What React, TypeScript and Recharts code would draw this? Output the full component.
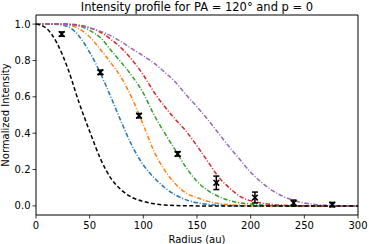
import React from "react";
import {
  ComposedChart,
  Line,
  Scatter,
  ErrorBar,
  XAxis,
  YAxis,
  ReferenceArea,
} from "recharts";

// radius grid (au) the model curves are read on
const radius = [
  0, 10, 20, 30, 40, 50, 60, 70, 80, 90, 100, 110, 120, 130, 140, 150, 160,
  170, 180, 190, 200, 210, 220, 230, 240, 250, 260, 270, 280, 290, 300,
];

// model curves
const psf = [
  1.0, 0.975, 0.89, 0.75, 0.57, 0.41, 0.26, 0.15, 0.085, 0.045, 0.025, 0.012,
  0.005, 0.002, 0.001, 0, 0, 0, 0, 0, 0, 0, 0, 0, 0, 0, 0, 0, 0, 0, 0,
];
const blue = [
  1.0, 1.0, 0.998, 0.985, 0.935, 0.845, 0.73, 0.595, 0.455, 0.325, 0.225,
  0.155, 0.1, 0.06, 0.033, 0.017, 0.008, 0.004, 0.002, 0.001, 0, 0, 0, 0, 0, 0,
  0, 0, 0, 0, 0,
];
const orange = [
  1.0, 1.0, 1.0, 0.995, 0.975, 0.93, 0.86, 0.785, 0.7, 0.585, 0.445, 0.3,
  0.195, 0.12, 0.07, 0.045, 0.025, 0.013, 0.007, 0.003, 0.001, 0, 0, 0, 0, 0,
  0, 0, 0, 0, 0,
];
const green = [
  1.0, 1.0, 1.0, 0.998, 0.99, 0.965, 0.925, 0.855, 0.785, 0.71, 0.62, 0.5, 0.4,
  0.305, 0.21, 0.135, 0.085, 0.052, 0.03, 0.017, 0.01, 0.005, 0.002, 0.001, 0,
  0, 0, 0, 0, 0, 0,
];
const red = [
  1.0, 1.0, 1.0, 1.0, 0.995, 0.98, 0.955, 0.915, 0.865, 0.8, 0.72, 0.625,
  0.545, 0.475, 0.41, 0.33, 0.245, 0.16, 0.1, 0.053, 0.028, 0.015, 0.008,
  0.004, 0.002, 0.001, 0, 0, 0, 0, 0,
];
const purple = [
  1.0, 1.0, 1.0, 0.997, 0.99, 0.978, 0.96, 0.935, 0.9, 0.862, 0.825, 0.785,
  0.735, 0.68, 0.61, 0.545, 0.475, 0.4, 0.325, 0.255, 0.185, 0.13, 0.085,
  0.053, 0.03, 0.016, 0.008, 0.004, 0.002, 0.001, 0,
];

// observed points with error bars
const obsR = [24, 60, 96, 132, 168, 204, 240, 276];
const obsV = [0.945, 0.735, 0.496, 0.286, 0.127, 0.046, 0.016, 0.007];
const obsErr = [0.012, 0.012, 0.012, 0.012, 0.037, 0.03, 0.016, 0.012];

const xTicks = [0, 50, 100, 150, 200, 250, 300];
const xMinor = Array.from({ length: 31 }, (_, i) => i * 10);
const yTicks = [0, 0.2, 0.4, 0.6, 0.8, 1.0];
const yMinor = Array.from({ length: 21 }, (_, i) => Math.round(i * 5) / 100);

const curveData = radius.map((r, i) => ({
  r,
  psf: psf[i],
  blue: blue[i],
  orange: orange[i],
  green: green[i],
  red: red[i],
  purple: purple[i],
}));

const obsData = obsR.map((r, i) => ({ r, v: obsV[i], err: obsErr[i] }));

const FONT = "'DejaVu Sans', sans-serif";
const DASHDOT = "4.5 1.8 1 1.8";

function XMarker(props: any) {
  const { cx, cy } = props;
  const s = 2.8;
  return (
    <g stroke="#000" strokeWidth={1.6}>
      <line x1={cx - s} y1={cy - s} x2={cx + s} y2={cy + s} />
      <line x1={cx - s} y1={cy + s} x2={cx + s} y2={cy - s} />
    </g>
  );
}

function YLabel() {
  return (
    <text
      x={9}
      y={115}
      transform="rotate(-90 9 115)"
      textAnchor="middle"
      fontSize={10}
      fill="#000"
    >
      Normalized Intensity
    </text>
  );
}

export default function App() {
  return (
    <div
      style={{
        position: "absolute",
        left: 0,
        top: 0,
        width: 369,
        height: 244,
        background: "#fff",
        fontFamily: FONT,
      }}
    >
      <div
        style={{
          position: "absolute",
          left: 36,
          width: 322,
          top: 0,
          textAlign: "center",
          fontSize: 11.5,
          lineHeight: "14px",
          color: "#000",
        }}
      >
        Intensity profile for PA = 120° and p = 0
      </div>
      <ComposedChart
        width={369}
        height={244}
        data={curveData}
        margin={{ top: 15, right: 11, bottom: 0, left: 0 }}
      >
        {/* minor ticks first so they sit against the frame */}
        <XAxis
          xAxisId="minor"
          type="number"
          dataKey="r"
          domain={[0, 300]}
          ticks={xMinor}
          tick={false}
          tickSize={2}
          height={0}
          axisLine={false}
          tickLine={{ stroke: "#000", strokeWidth: 0.8 }}
          allowDataOverflow
        />
        <XAxis
          type="number"
          dataKey="r"
          domain={[0, 300]}
          ticks={xTicks}
          tickSize={3.5}
          tickMargin={3}
          height={29}
          axisLine={false}
          tickLine={{ stroke: "#000", strokeWidth: 0.8 }}
          tick={{ fill: "#000", fontSize: 10 }}
          allowDataOverflow
          label={{
            value: "Radius (au)",
            position: "insideBottom",
            offset: 1,
            fill: "#000",
            fontSize: 10,
          }}
        />
        <YAxis
          yAxisId="minor"
          type="number"
          domain={[-0.05, 1.05]}
          ticks={yMinor}
          tick={false}
          tickSize={2}
          width={0}
          axisLine={false}
          tickLine={{ stroke: "#000", strokeWidth: 0.8 }}
          allowDataOverflow
        />
        <YAxis
          type="number"
          domain={[-0.05, 1.05]}
          ticks={yTicks}
          tickFormatter={(v: number) => v.toFixed(1)}
          tickSize={3.5}
          tickMargin={2}
          width={36}
          axisLine={false}
          tickLine={{ stroke: "#000", strokeWidth: 0.8 }}
          tick={{ fill: "#000", fontSize: 10 }}
          allowDataOverflow
          label={<YLabel />}
        />
        <Line
          dataKey="blue"
          type="monotone"
          stroke="#1f77b4"
          strokeWidth={1.5}
          strokeDasharray={DASHDOT}
          dot={false}
          isAnimationActive={false}
        />
        <Line
          dataKey="orange"
          type="monotone"
          stroke="#ff7f0e"
          strokeWidth={1.5}
          strokeDasharray={DASHDOT}
          dot={false}
          isAnimationActive={false}
        />
        <Line
          dataKey="green"
          type="monotone"
          stroke="#2ca02c"
          strokeWidth={1.5}
          strokeDasharray={DASHDOT}
          dot={false}
          isAnimationActive={false}
        />
        <Line
          dataKey="red"
          type="monotone"
          stroke="#d62728"
          strokeWidth={1.5}
          strokeDasharray={DASHDOT}
          dot={false}
          isAnimationActive={false}
        />
        <Line
          dataKey="purple"
          type="monotone"
          stroke="#9467bd"
          strokeWidth={1.5}
          strokeDasharray={DASHDOT}
          dot={false}
          isAnimationActive={false}
        />
        <Line
          dataKey="psf"
          type="monotone"
          stroke="#000"
          strokeWidth={1.5}
          strokeDasharray="4 2.4"
          dot={false}
          isAnimationActive={false}
        />
        <Scatter
          data={obsData}
          dataKey="v"
          shape={<XMarker />}
          isAnimationActive={false}
        >
          <ErrorBar
            dataKey="err"
            direction="y"
            width={3}
            stroke="#000"
            strokeWidth={1.5}
            isAnimationActive={false}
          />
        </Scatter>
        <ReferenceArea
          x1={0}
          x2={300}
          y1={-0.05}
          y2={1.05}
          fill="none"
          stroke="#000"
          strokeWidth={1}
          ifOverflow="visible"
        />
      </ComposedChart>
    </div>
  );
}
